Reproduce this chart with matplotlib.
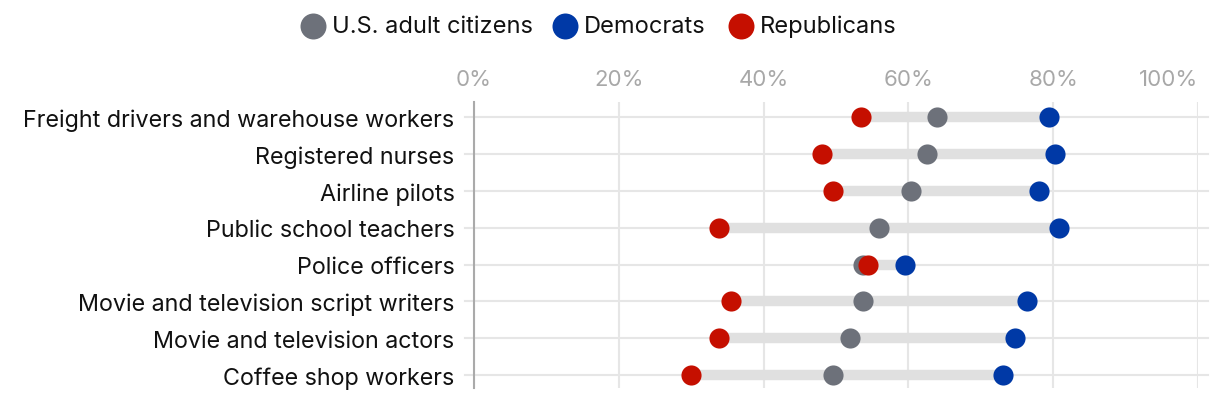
import numpy as np
import matplotlib.pyplot as plt

# Share of each group that views the job favourably (%)
jobs = ['Freight drivers and warehouse workers', 'Registered nurses', 'Airline pilots',
        'Public school teachers', 'Police officers', 'Movie and television script writers',
        'Movie and television actors', 'Coffee shop workers']
citizens = [64, 62.6, 60.4, 56, 53.7, 53.7, 52, 49.6]
democrats = [79.4, 80.2, 78, 80.8, 59.5, 76.4, 74.7, 73]
republicans = [53.5, 48, 49.6, 33.8, 54.4, 35.5, 33.8, 30]
ticks = [0, 20, 40, 60, 80, 100]
legend_labels = ['U.S. adult citizens', 'Democrats', 'Republicans']

gray = '#6d717a'
blue = '#0039a6'
red = '#c50f00'

plt.rcParams['font.family'] = ['Inter', 'DejaVu Sans']

fig = plt.figure(figsize=(12.2, 4.02), dpi=100)
ax = fig.add_axes([474 / 1220, 1 - 389 / 402, (1198 - 474) / 1220, (389 - 103) / 402])

y = np.arange(len(jobs))
lo = np.minimum(np.minimum(citizens, democrats), republicans)
hi = np.maximum(np.maximum(citizens, democrats), republicans)

# row guide lines, slightly wider than the axis
for yi in y:
    ax.plot([-1.3, 101.4], [yi, yi], color='#e6e6e6', lw=1.5, zorder=0, clip_on=False)

ax.hlines(y, lo, hi, color='#e0e0e0', lw=7.5, zorder=1, capstyle='butt')
ax.scatter(citizens, y, s=210, color=gray, zorder=3, linewidths=0)
ax.scatter(democrats, y, s=210, color=blue, zorder=4, linewidths=0)
ax.scatter(republicans, y, s=210, color=red, zorder=5, linewidths=0)

ax.set_xlim(0, 100)
ax.set_ylim(len(jobs) - 1 + 0.35, -0.41)
ax.set_xticks(ticks)
ax.set_xticklabels([f'{t}%' for t in ticks])
ax.xaxis.tick_top()
ax.tick_params(axis='x', length=0, pad=9, labelsize=16, labelcolor='#a8a8a8')
# keep the last tick label inside the figure
ax.xaxis.get_major_ticks()[-1].label2.set_horizontalalignment('right')
ax.set_yticks(y)
ax.set_yticklabels(jobs)
ax.tick_params(axis='y', length=0, pad=14, labelsize=16.8, labelcolor='#111111')
ax.grid(axis='x', color='#e6e6e6', lw=1.5, zorder=0)
ax.set_axisbelow(True)
for side in ['top', 'right', 'bottom']:
    ax.spines[side].set_visible(False)
ax.spines['left'].set_color('#aaaaaa')
ax.spines['left'].set_linewidth(1.5)

# legend across the top, drawn in pixel coordinates
lax = fig.add_axes([0, 0, 1, 1], zorder=-1)
lax.set_xlim(0, 1220)
lax.set_ylim(402, 0)
lax.axis('off')
legend_x = [313, 565, 741]
for label, col, px in zip(legend_labels, [gray, blue, red], legend_x):
    lax.scatter([px], [27], s=350, color=col, linewidths=0)
    lax.text(px + 19, 27, label, fontsize=17, va='center', ha='left', color='#111111')

fig.savefig('out.png', dpi=100)
